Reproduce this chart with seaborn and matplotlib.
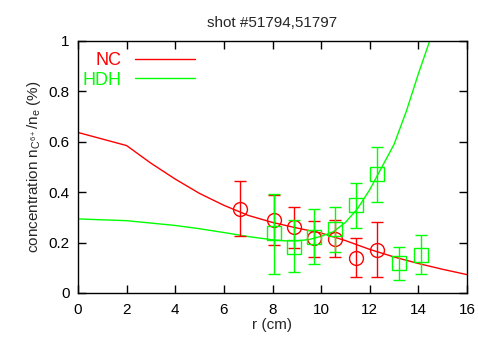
import numpy as np
import pandas as pd
import matplotlib
matplotlib.use("Agg")
import matplotlib.pyplot as plt
import seaborn as sns
from matplotlib.ticker import FuncFormatter

# --- data ---
nc_curve_x = [0, 1, 2, 3, 4, 5, 6, 7, 8, 9, 10, 11, 12, 13, 14, 15, 16]
nc_curve_y = [0.637, 0.611, 0.585, 0.515, 0.452, 0.395, 0.348, 0.308, 0.280, 0.258, 0.238, 0.208, 0.173, 0.143, 0.117, 0.094, 0.073]

hdh_curve_x = [0, 2, 4, 5, 6, 7, 8, 8.5, 9, 9.5, 10, 10.5, 11, 11.5, 12, 12.5, 13, 13.5, 14, 14.5, 15]
hdh_curve_y = [0.294, 0.287, 0.268, 0.255, 0.240, 0.224, 0.211, 0.207, 0.207, 0.212, 0.225, 0.243, 0.280, 0.335, 0.410, 0.500, 0.590, 0.720, 0.870, 1.010, 1.200]

nc_pts_x = [6.67, 8.07, 8.89, 9.71, 10.58, 11.44, 12.30]
nc_pts_y = [0.333, 0.290, 0.262, 0.218, 0.214, 0.139, 0.170]
nc_pts_lo = [0.226, 0.190, 0.180, 0.143, 0.143, 0.064, 0.063]
nc_pts_hi = [0.444, 0.390, 0.340, 0.286, 0.290, 0.218, 0.280]

hdh_pts_x = [8.07, 8.89, 9.71, 10.58, 11.44, 12.30, 13.20, 14.10]
hdh_pts_y = [0.238, 0.183, 0.222, 0.254, 0.349, 0.472, 0.119, 0.151]
hdh_pts_lo = [0.075, 0.083, 0.115, 0.163, 0.258, 0.361, 0.052, 0.075]
hdh_pts_hi = [0.393, 0.290, 0.333, 0.340, 0.436, 0.580, 0.183, 0.230]

x_ticks = [0, 2, 4, 6, 8, 10, 12, 14, 16]
y_ticks = [0, 0.2, 0.4, 0.6, 0.8, 1]

RED = "#ff0000"
GREEN = "#00ff00"

sns.set_theme(style="ticks")
plt.rcParams["font.family"] = ["Liberation Sans", "DejaVu Sans"]
plt.rcParams["mathtext.default"] = "regular"

fig = plt.figure(figsize=(4.78, 3.40), dpi=100)
ax = fig.add_axes([78 / 478, 1 - 293 / 340, (467 - 78) / 478, (293 - 41) / 340])

df_nc = pd.DataFrame({"r": nc_curve_x, "c": nc_curve_y})
df_hdh = pd.DataFrame({"r": hdh_curve_x, "c": hdh_curve_y})
sns.lineplot(data=df_nc, x="r", y="c", ax=ax, color=RED, lw=1.0, label="NC")
sns.lineplot(data=df_hdh, x="r", y="c", ax=ax, color=GREEN, lw=1.0, label="HDH")

def eb(xs, ys, lo, hi, color, marker, ms):
    ys = np.array(ys); lo = np.array(lo); hi = np.array(hi)
    ax.errorbar(xs, ys, yerr=[ys - lo, hi - ys], fmt="none", ecolor=color,
                elinewidth=1.0, capsize=4, capthick=1.0)
    ax.plot(xs, ys, linestyle="none", marker=marker, ms=ms, mfc="none",
            mec=color, mew=1.0)

eb(nc_pts_x, nc_pts_y, nc_pts_lo, nc_pts_hi, RED, "o", 10)
eb(hdh_pts_x, hdh_pts_y, hdh_pts_lo, hdh_pts_hi, GREEN, "s", 9.5)

ax.set_xlim(0, 16)
ax.set_ylim(0, 1)
ax.set_xticks(x_ticks)
ax.set_yticks(y_ticks)
ax.xaxis.set_major_formatter(FuncFormatter(lambda v, p: "%g" % v))
ax.yaxis.set_major_formatter(FuncFormatter(lambda v, p: "%g" % v))
ax.tick_params(direction="in", length=6, width=1, top=True, right=True,
               labelsize=11, colors="black")
ax.tick_params(axis="x", pad=7)
ax.tick_params(axis="y", pad=6)
for s in ax.spines.values():
    s.set_visible(True)
    s.set_color("black")
    s.set_linewidth(1.0)

ax.set_xlabel("r (cm)", fontsize=11, labelpad=1)
ax.set_ylabel(r"concentration n$_{C^{6+}}$/n$_e$ (%)", fontsize=11, labelpad=4)
ax.set_title("shot #51794,51797", fontsize=11, pad=10)

leg = ax.legend(loc="upper left", frameon=False, markerfirst=False,
                labelcolor="linecolor", fontsize=13, handlelength=3.3,
                handletextpad=0.75, labelspacing=0.12, borderpad=0,
                bbox_to_anchor=(0.012, 0.955), borderaxespad=0)

fig.savefig("out.png", dpi=100)
